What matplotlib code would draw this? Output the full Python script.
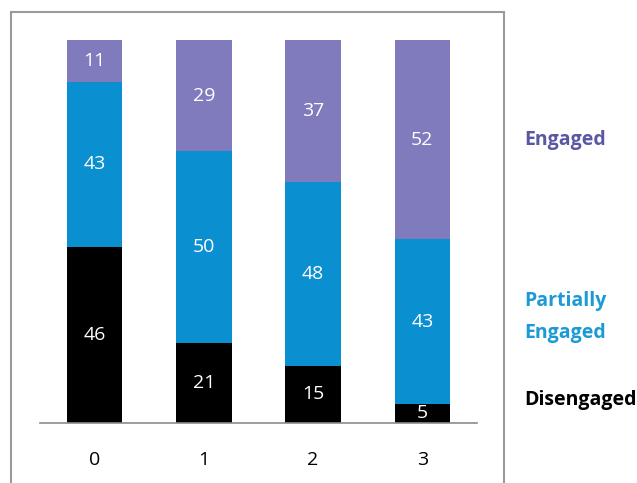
import numpy as np
import matplotlib.pyplot as plt
from matplotlib.patches import Rectangle

# Engagement share per group (percent)
groups = ['0', '1', '2', '3']
disengaged = [46, 21, 15, 5]
partially = [43, 50, 48, 43]
engaged = [11, 29, 37, 52]

c_dis = '#000000'
c_part = '#0a8fd0'
c_eng = '#7f7bbd'

plt.rcParams['font.family'] = ['Open Sans', 'DejaVu Sans']

fig = plt.figure(figsize=(6.37, 4.83), dpi=100)
ax = fig.add_axes([0.0628, 0.1242, 0.686, 0.793])

x = np.arange(len(groups))
w = 0.51
dis = np.array(disengaged)
part = np.array(partially)
eng = np.array(engaged)

b1 = ax.bar(x, dis, w, color=c_dis)
b2 = ax.bar(x, part, w, bottom=dis, color=c_part)
b3 = ax.bar(x, eng, w, bottom=dis + part, color=c_eng)

for vals, bots in [(dis, 0 * dis), (part, dis), (eng, dis + part)]:
    for xi, v, b in zip(x, vals, bots):
        ax.text(xi, b + v / 2, str(v), ha='center', va='center',
                color='white', fontsize=14)

ax.set_xlim(-0.5, 3.5)
ax.set_ylim(0, 100)
ax.set_xticks(x)
ax.set_xticklabels(groups, fontsize=14)
ax.tick_params(axis='x', length=0, pad=20)
ax.set_yticks([])
for s in ['top', 'right', 'left']:
    ax.spines[s].set_visible(False)
ax.spines['bottom'].set_color('#8c8c8c')
ax.spines['bottom'].set_linewidth(1.2)

# legend as coloured labels on the right
lx = 524 / 637
fig.text(lx, 1 - 140 / 483, 'Engaged', color='#5b58a3', fontsize=14,
         fontweight='bold', va='center')
fig.text(lx, 1 - 301 / 483, 'Partially', color='#1b9ad6', fontsize=14,
         fontweight='bold', va='center')
fig.text(lx, 1 - 333 / 483, 'Engaged', color='#1b9ad6', fontsize=14,
         fontweight='bold', va='center')
fig.text(lx, 1 - 400 / 483, 'Disengaged', color='black', fontsize=14,
         fontweight='bold', va='center')

# grey frame around the chart area
fig.patches.append(Rectangle((11 / 637, -0.05), (504 - 11) / 637, 1.05 - 12 / 483,
                             transform=fig.transFigure, fill=False,
                             edgecolor='#9a9a9a', linewidth=1.5))

plt.savefig('out.png', dpi=100)
